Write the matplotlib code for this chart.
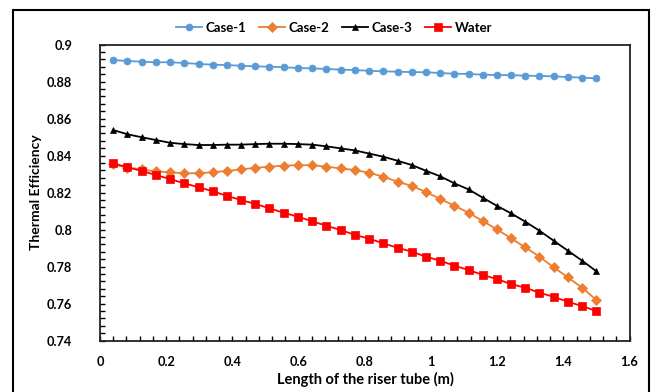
import matplotlib
matplotlib.use("Agg")
import matplotlib.pyplot as plt
from matplotlib.ticker import MultipleLocator, FuncFormatter
from matplotlib.patches import Rectangle

plt.rcParams['font.family'] = ['Lato', 'DejaVu Sans']

x = [0.040, 0.083, 0.126, 0.169, 0.212, 0.255, 0.298, 0.341, 0.384, 0.426,
     0.469, 0.512, 0.555, 0.598, 0.641, 0.684, 0.727, 0.770, 0.813, 0.856,
     0.899, 0.942, 0.985, 1.028, 1.071, 1.114, 1.157, 1.199, 1.242, 1.285,
     1.328, 1.371, 1.414, 1.457, 1.500]

case1 = [0.8916, 0.8911, 0.8907, 0.8904, 0.8904, 0.8900, 0.8895, 0.8891, 0.8889, 0.8885,
         0.8882, 0.8880, 0.8877, 0.8873, 0.8871, 0.8868, 0.8864, 0.8862, 0.8858, 0.8855,
         0.8853, 0.8851, 0.8850, 0.8846, 0.8842, 0.8841, 0.8837, 0.8835, 0.8834, 0.8832,
         0.8830, 0.8828, 0.8824, 0.8821, 0.8817]

case2 = [0.8352, 0.8335, 0.8325, 0.8314, 0.8310, 0.8304, 0.8305, 0.8310, 0.8317, 0.8325,
         0.8334, 0.8340, 0.8346, 0.8348, 0.8348, 0.8340, 0.8331, 0.8322, 0.8307, 0.8286,
         0.8259, 0.8236, 0.8203, 0.8166, 0.8129, 0.8091, 0.8046, 0.8002, 0.7953, 0.7904,
         0.7854, 0.7796, 0.7742, 0.7686, 0.7620]

case3 = [0.8538, 0.8515, 0.8499, 0.8484, 0.8469, 0.8462, 0.8457, 0.8457, 0.8459, 0.8459,
         0.8462, 0.8464, 0.8464, 0.8462, 0.8459, 0.8450, 0.8439, 0.8428, 0.8411, 0.8394,
         0.8372, 0.8349, 0.8318, 0.8288, 0.8250, 0.8217, 0.8172, 0.8129, 0.8088, 0.8043,
         0.7994, 0.7940, 0.7886, 0.7832, 0.7775]

water = [0.8358, 0.8337, 0.8317, 0.8295, 0.8273, 0.8250, 0.8229, 0.8207, 0.8182, 0.8160,
         0.8139, 0.8115, 0.8091, 0.8070, 0.8045, 0.8021, 0.7998, 0.7972, 0.7951, 0.7926,
         0.7902, 0.7881, 0.7854, 0.7832, 0.7805, 0.7782, 0.7755, 0.7733, 0.7706, 0.7686,
         0.7659, 0.7637, 0.7610, 0.7587, 0.7560]

labels = ["Case-1", "Case-2", "Case-3", "Water"]
colors = ["#5B9BD5", "#ED7D31", "#000000", "#FF0000"]
markers = ["o", "D", "^", "s"]
msizes = [5.0, 4.8, 5.0, 5.2]

fig = plt.figure(figsize=(6.57, 3.92), dpi=100)
ax = fig.add_axes([100/657, 1-340.7/392, 529.5/657, 296.2/392])

for y, lab, c, m, ms in zip([case1, case2, case3, water], labels, colors, markers, msizes):
    ax.plot(x, y, color=c, marker=m, markersize=ms, linewidth=1.3, label=lab,
            markeredgewidth=0.5, markeredgecolor=c)

ax.set_xlim(0, 1.6)
ax.set_ylim(0.74, 0.9)
ax.xaxis.set_major_locator(MultipleLocator(0.2))
ax.xaxis.set_minor_locator(MultipleLocator(0.04))
ax.yaxis.set_major_locator(MultipleLocator(0.02))
ax.yaxis.set_minor_locator(MultipleLocator(0.004))

def fmt(v, pos):
    s = ("%.2f" % v).rstrip('0').rstrip('.')
    return s
ax.xaxis.set_major_formatter(FuncFormatter(fmt))
ax.yaxis.set_major_formatter(FuncFormatter(fmt))

ax.tick_params(which='both', direction='in', length=3.5, width=1.0, color='black')
ax.tick_params(which='major', labelsize=9.2, pad=11)
ax.tick_params(axis='y', which='major', pad=20)
for lab in ax.get_xticklabels() + ax.get_yticklabels():
    lab.set_fontweight('bold')
for s in ax.spines.values():
    s.set_linewidth(1.3)
    s.set_color('#222222')

fig.text(365/657, 1-379/392, "Length of the riser tube (m)", ha='center', va='center',
         fontsize=10.5, fontweight='bold')
fig.text(36/657, 1-192/392, "Thermal Efficiency", ha='center', va='center',
         fontsize=10, fontweight='bold', rotation=90)

leg = fig.legend(loc='center', bbox_to_anchor=(334/657, 1-27.5/392), ncol=4, frameon=False,
                 handlelength=2.0, handletextpad=0.3, columnspacing=0.9,
                 prop={'weight': 'bold', 'size': 9.5})

fig.patches.append(Rectangle((13/657, -0.05), (649-13)/657, 1.05 - 9.5/392,
                             transform=fig.transFigure, fill=False,
                             edgecolor='black', linewidth=1.5))

fig.savefig("out.png", dpi=100)
